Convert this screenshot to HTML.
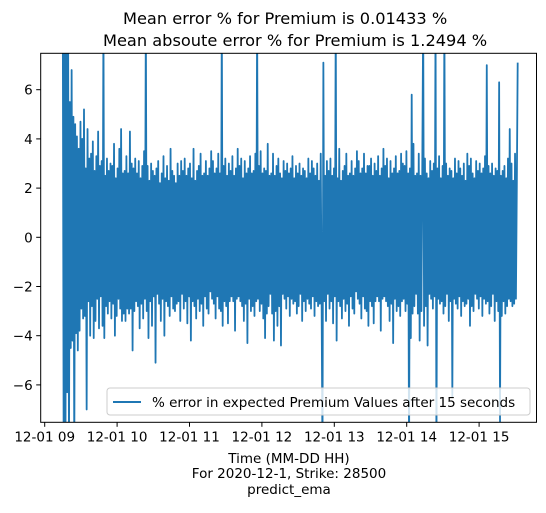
<!DOCTYPE html>
<html><head><meta charset="utf-8"><style>
html,body{margin:0;padding:0;background:#fff;}
svg text{font-family:"DejaVu Sans","Liberation Sans",sans-serif;fill:#000;}
</style></head><body>
<svg id="chart" width="546" height="508" xmlns="http://www.w3.org/2000/svg">
<text x="123" y="24" font-size="16.2">Mean error % for Premium is 0.01433 %</text>
<text x="103" y="46" font-size="16.2">Mean absoute error % for Premium is 1.2494 %</text>
<g id="plot"></g>
<g id="axes"></g>
<g>
<rect x="107" y="388" width="423" height="27" rx="3" fill="#fff" fill-opacity="0.8" stroke="#ccc" stroke-width="1"/>
<line x1="113" y1="402" x2="141" y2="402" stroke="#1f77b4" stroke-width="2"/>
<text x="152" y="407" font-size="13.5">% error in expected Premium Values after 15 seconds</text>
</g>
<text x="289" y="463" font-size="13.5" text-anchor="middle">Time (MM-DD HH)</text>
<text x="289" y="478" font-size="13.5" text-anchor="middle">For 2020-12-1, Strike: 28500</text>
<text x="289" y="494" font-size="13.5" text-anchor="middle">predict_ema</text>
</svg>
<script>
const startHour = 9.25;
const stepMinutes = 0.732;
const xTickHours = [9,10,11,12,13,14,15];
const xTickLabels = ["12-01 09","12-01 10","12-01 11","12-01 12","12-01 13","12-01 14","12-01 15"];
const yTicks = [-6,-4,-2,0,2,4,6];
const errorValues = [
 9,-9,8,-9,9,-6.3,9,-9,5.5,-4.5,6.8,-4.2,4.9,-9,4.6,-3.9,4.1,-4.6,3.6,-3.8,
 4.7,-2.9,4.0,-3.3,5.2,-3.2,2.8,-7.0,4.4,-2.6,3.2,-4.0,3.4,-2.8,3.9,-4.1,2.7,-3.4,3.3,-2.5,
 4.3,-3.7,2.9,-2.4,3.1,-3.6,9,-4.1,2.5,-2.8,3.2,-3.1,2.7,-2.6,3.0,-3.3,2.9,-2.7,3.8,-4.0,
 2.4,-3.2,2.8,-2.5,3.6,-2.9,4.4,-3.4,2.6,-3.1,2.7,-3.4,3.3,-2.9,2.6,-3.1,4.3,-2.9,3.0,-4.6,
 2.8,-3.0,3.2,-2.6,2.6,-2.8,3.1,-3.7,2.4,-2.7,2.9,-3.3,3.5,-2.5,9,-3.0,2.9,-4.1,2.3,-2.6,
 3.0,-3.6,2.7,-2.4,2.5,-5.1,2.8,-2.3,3.1,-2.7,2.2,-3.4,2.6,-2.5,3.3,-4.0,2.4,-2.6,2.9,-2.8,
 2.3,-3.2,3.6,-2.4,2.7,-2.9,2.5,-3.0,2.2,-2.7,3.0,-2.6,2.5,-3.4,3.1,-2.3,2.7,-2.9,3.2,-2.6,
 2.5,-3.5,2.8,-2.4,3.0,-4.2,2.4,-2.6,3.6,-2.8,2.3,-3.3,2.7,-2.5,2.9,-3.0,3.4,-2.7,2.5,-3.6,
 2.6,-2.4,3.1,-2.9,2.5,-3.1,2.8,-2.2,3.5,-2.5,3.1,-2.7,2.6,-3.3,2.8,-2.4,3.4,-2.9,2.6,-3.0,
 9,-3.6,2.9,-2.6,3.2,-2.8,2.5,-3.5,3.0,-2.6,2.7,-2.4,3.3,-2.6,2.5,-3.8,2.8,-2.5,3.6,-2.4,
 2.9,-2.6,3.2,-2.8,2.4,-3.4,3.1,-2.7,2.6,-4.3,2.8,-2.5,3.3,-3.0,2.6,-2.8,2.7,-3.2,3.4,-2.6,
 9,-2.5,2.9,-3.0,3.5,-2.7,2.6,-3.3,2.8,-4.1,2.7,-3.1,3.8,-2.8,2.5,-2.3,2.6,-3.1,3.4,-4.2,
 2.5,-3.0,2.9,-3.6,3.2,-2.8,2.6,-4.4,2.4,-2.3,3.1,-2.5,2.7,-2.9,3.0,-2.4,2.6,-3.2,2.8,-2.5,
 3.3,-2.7,2.4,-2.6,2.9,-3.1,2.6,-2.8,3.0,-2.3,2.5,-3.4,2.8,-2.6,2.7,-3.0,2.4,-2.5,3.2,-2.7,
 2.6,-2.9,3.1,-2.4,2.8,-3.2,2.5,-2.6,3.0,-2.8,2.3,-2.7,3.4,-2.5,-9,7.1,-2.6,2.5,-3.4,3.1,
 -2.3,2.7,-2.9,3.2,-2.6,2.5,-3.5,2.8,-2.4,9,-4.2,2.4,-2.6,3.6,-2.8,2.3,-3.3,2.7,-2.5,2.9,
 -3.0,3.4,-2.7,2.5,-3.6,2.6,-2.4,3.1,-2.9,2.5,-3.1,2.8,-2.2,3.5,-2.5,3.1,-2.7,2.6,-3.3,2.8,
 -2.4,3.4,-2.9,2.6,-3.0,2.9,-3.6,2.9,-2.6,3.2,-2.8,2.5,-3.5,3.0,-2.6,2.7,-2.4,3.3,-2.6,2.5,
 -3.8,2.8,-2.5,3.6,-2.4,2.9,-2.6,3.2,-2.8,2.4,-3.4,3.1,-2.7,2.6,-4.3,2.8,-2.5,3.3,-3.0,2.6,
 -2.8,2.7,-3.2,3.4,-2.6,3.0,-2.5,2.9,-3.0,3.5,-2.7,2.6,-9,2.8,-4.1,5.8,-3.1,3.8,-2.8,2.5,
 -2.3,2.6,-3.1,3.4,-4.2,2.5,-3.0,2.9,9,-3.6,3.2,-2.8,2.6,-4.4,2.4,-2.3,3.1,-2.5,2.7,-2.9,
 3.0,-2.4,9,-9,2.8,-2.5,3.3,-2.7,2.4,-2.6,2.9,-3.1,9,-2.8,3.0,-2.3,2.5,-3.4,2.8,-2.6,
 2.7,-6.5,2.4,-2.5,3.2,-2.7,2.6,-2.9,3.1,-2.4,2.8,-3.2,2.5,-2.6,3.0,-2.8,2.3,-2.7,3.4,-2.5,
 2.9,-3.6,3.2,-2.8,2.6,-3.0,2.4,-2.3,3.1,-2.5,2.7,-2.9,3.0,-2.4,2.6,-3.2,2.8,-2.5,3.3,-2.7,
 7.0,-2.6,2.9,-3.1,2.6,-2.8,3.0,-2.3,2.5,-3.4,2.8,-2.6,2.7,-3.0,6.3,-7.5,2.5,-3.2,2.7,-2.6,
 2.9,-3.1,2.4,-2.8,3.2,-2.5,4.4,-2.6,3.0,-2.8,2.3,-2.7,3.4,-2.5,2.1,7.1
];
const X0 = 44.7, PXH = 72.4;
const Y0 = 237.3, PXU = 24.6;
const L = 40.7, R = 536.5, T = 53.3, B = 422.3;
function xScale(h){ return X0 + (h - 9) * PXH; }
function yScale(v){ return Y0 - v * PXU; }
const NS = "http://www.w3.org/2000/svg";
const plot = document.getElementById('plot');
const axes = document.getElementById('axes');
const defs = document.createElementNS(NS,'defs');
defs.innerHTML = '<clipPath id="clip"><rect x="'+L+'" y="'+T+'" width="'+(R-L)+'" height="'+(B-T)+'"/></clipPath>';
document.getElementById('chart').insertBefore(defs, plot);
plot.setAttribute('clip-path','url(#clip)');
let d = '';
errorValues.forEach((v,i)=>{
  const x = xScale(startHour + i*stepMinutes/60);
  d += (i?'L':'M') + x.toFixed(2) + ' ' + yScale(v).toFixed(2);
});
const path = document.createElementNS(NS,'path');


path.setAttribute('d', d);
path.setAttribute('fill','none');
path.setAttribute('stroke','#1f77b4');
path.setAttribute('stroke-width','1.8');
path.setAttribute('stroke-linejoin','round');
plot.appendChild(path);
const frame = document.createElementNS(NS,'rect');


frame.setAttribute('x',L);frame.setAttribute('y',T);
frame.setAttribute('width',R-L);frame.setAttribute('height',B-T);
frame.setAttribute('fill','none');frame.setAttribute('stroke','#000');frame.setAttribute('stroke-width','1');
axes.appendChild(frame);
yTicks.forEach(v=>{
  const y = yScale(v);
  const tk = document.createElementNS(NS,'line');
  
  
  tk.setAttribute('x1',L-4.5);tk.setAttribute('x2',L);tk.setAttribute('y1',y);tk.setAttribute('y2',y);
  tk.setAttribute('stroke','#000');
  axes.appendChild(tk);
  const t = document.createElementNS(NS,'text');
  
  
  t.setAttribute('x',L-8);t.setAttribute('y',y+5);t.setAttribute('text-anchor','end');t.setAttribute('font-size','13.5');
  t.textContent = v<0 ? '\u2212'+Math.abs(v) : String(v);
  axes.appendChild(t);
});
xTickHours.forEach((h,i)=>{
  const x = xScale(h);
  const tk = document.createElementNS(NS,'line');
  
  
  tk.setAttribute('x1',x);tk.setAttribute('x2',x);tk.setAttribute('y1',B);tk.setAttribute('y2',B+4.5);
  tk.setAttribute('stroke','#000');
  axes.appendChild(tk);
  const t = document.createElementNS(NS,'text');
  
  
  t.setAttribute('x',x);t.setAttribute('y',B+19);t.setAttribute('text-anchor','middle');t.setAttribute('font-size','13.5');
  t.textContent = xTickLabels[i];
  axes.appendChild(t);
});
</script>
</body></html>
